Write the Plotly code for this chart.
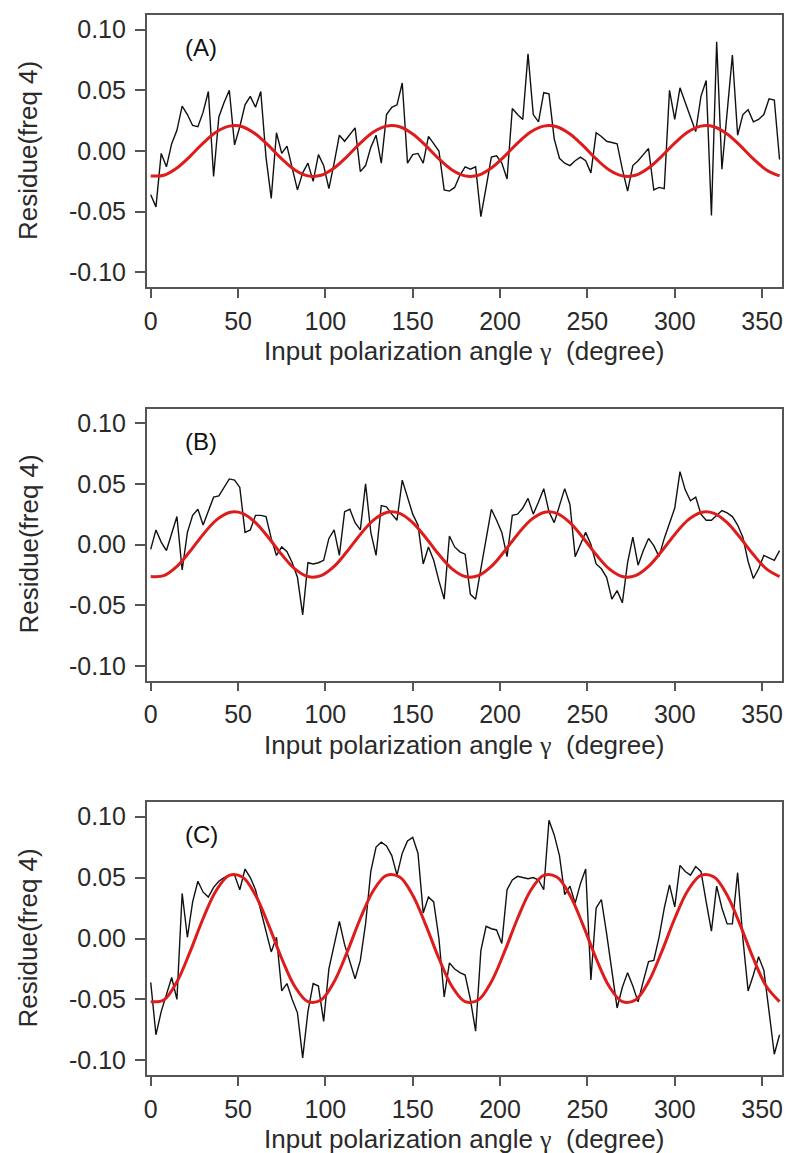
import plotly.graph_objects as go

# ---------------- data ----------------
gamma = list(range(0, 361, 3))  # input polarization angle (degree)

res_A = [-0.036, -0.046, -0.002, -0.013, 0.006, 0.017, 0.037, 0.030, 0.021, 0.020,
         0.032, 0.049, -0.021, 0.028, 0.040, 0.050, 0.005, 0.020, 0.038, 0.045,
         0.036, 0.049, -0.005, -0.039, 0.015, -0.002, 0.004, -0.015, -0.032, -0.018,
         -0.010, -0.025, -0.003, -0.012, -0.031, -0.010, 0.013, 0.008, 0.014, 0.019,
         -0.017, -0.012, 0.003, 0.013, -0.010, 0.030, 0.036, 0.038, 0.056, -0.010,
         -0.003, -0.002, -0.010, 0.012, 0.006, 0.000, -0.032, -0.033, -0.030, -0.020,
         -0.013, -0.015, -0.013, -0.054, -0.030, -0.005, -0.004, -0.010, -0.023, 0.035,
         0.030, 0.026, 0.080, 0.030, 0.024, 0.048, 0.047, 0.010, -0.006, -0.010,
         -0.012, -0.008, -0.005, -0.008, -0.018, 0.015, 0.012, 0.008, 0.007, 0.006,
         -0.015, -0.033, -0.012, -0.008, -0.003, 0.002, -0.032, -0.030, -0.031, 0.050,
         0.026, 0.052, 0.040, 0.028, 0.016, 0.045, 0.058, -0.053, 0.090, -0.015,
         0.030, 0.079, 0.013, 0.030, 0.034, 0.024, 0.026, 0.030, 0.043, 0.042,
         -0.007]

res_B = [-0.004, 0.012, 0.002, -0.005, 0.009, 0.023, -0.021, 0.010, 0.024, 0.029,
         0.016, 0.028, 0.039, 0.040, 0.047, 0.054, 0.053, 0.047, 0.010, 0.012,
         0.024, 0.024, 0.023, 0.005, -0.009, -0.002, -0.006, -0.015, -0.027, -0.058,
         -0.015, -0.016, -0.015, -0.013, 0.005, 0.012, -0.009, 0.027, 0.029, 0.018,
         0.012, 0.050, 0.010, -0.009, 0.032, 0.031, 0.025, 0.020, 0.053, 0.038,
         0.025, 0.016, -0.016, -0.002, -0.013, -0.030, -0.045, 0.007, -0.002, -0.006,
         -0.008, -0.041, -0.045, -0.020, 0.005, 0.029, 0.020, 0.010, -0.010, 0.024,
         0.025, 0.030, 0.038, 0.025, 0.035, 0.046, 0.027, 0.018, 0.032, 0.046,
         0.033, -0.010, 0.000, 0.010, 0.000, -0.016, -0.020, -0.027, -0.045, -0.038,
         -0.048, -0.015, 0.006, -0.017, -0.005, 0.005, -0.001, -0.010, 0.005, 0.018,
         0.030, 0.060, 0.045, 0.036, 0.039, 0.025, 0.020, 0.020, 0.024, 0.028,
         0.026, 0.023, 0.016, 0.006, -0.014, -0.028, -0.020, -0.009, -0.011, -0.013,
         -0.005]

res_C = [-0.036, -0.079, -0.060, -0.045, -0.032, -0.050, 0.037, 0.001, 0.030, 0.047,
         0.038, 0.034, 0.042, 0.047, 0.050, 0.052, 0.052, 0.040, 0.057, 0.050,
         0.040, 0.023, 0.005, -0.011, 0.001, -0.043, -0.037, -0.050, -0.061, -0.098,
         -0.060, -0.037, -0.039, -0.068, -0.025, -0.005, 0.014, -0.005, -0.020, -0.033,
         -0.018, 0.012, 0.055, 0.075, 0.079, 0.076, 0.068, 0.052, 0.070, 0.080,
         0.083, 0.070, 0.021, 0.034, 0.030, 0.000, -0.048, -0.020, -0.025, -0.028,
         -0.030, -0.050, -0.076, -0.010, 0.010, 0.008, 0.007, -0.004, 0.040, 0.048,
         0.051, 0.050, 0.049, 0.050, 0.048, 0.040, 0.097, 0.085, 0.068, 0.036,
         0.043, 0.029, 0.045, 0.057, -0.034, 0.025, 0.032, 0.004, -0.026, -0.057,
         -0.040, -0.028, -0.039, -0.052, -0.035, -0.019, -0.018, 0.001, 0.025, 0.044,
         0.026, 0.060, 0.055, 0.052, 0.059, 0.055, 0.030, 0.006, 0.043, 0.025,
         0.012, 0.012, 0.054, 0.000, -0.043, -0.030, -0.015, -0.026, -0.060, -0.095,
         -0.079]

# fitted freq-4 curves (red), read every 7.5 degrees
gamma_fit = [i * 7.5 for i in range(49)]

fit_A = [-0.0205, -0.0200, -0.0140, -0.0044, 0.0065, 0.0156, 0.0205, 0.0200, 0.0140, 0.0044, -0.0065, -0.0156,
         -0.0205, -0.0200, -0.0140, -0.0044, 0.0065, 0.0156, 0.0205, 0.0200, 0.0140, 0.0044, -0.0065, -0.0156,
         -0.0205, -0.0200, -0.0140, -0.0044, 0.0065, 0.0156, 0.0205, 0.0200, 0.0140, 0.0044, -0.0065, -0.0156,
         -0.0205, -0.0200, -0.0140, -0.0044, 0.0065, 0.0156, 0.0205, 0.0200, 0.0140, 0.0044, -0.0065, -0.0156,
         -0.0205]

fit_B = [-0.0264, -0.0257, -0.0181, -0.0056, 0.0083, 0.0201, 0.0264, 0.0257, 0.0181, 0.0056, -0.0083, -0.0201,
         -0.0264, -0.0257, -0.0181, -0.0056, 0.0083, 0.0201, 0.0264, 0.0257, 0.0181, 0.0056, -0.0083, -0.0201,
         -0.0264, -0.0257, -0.0181, -0.0056, 0.0083, 0.0201, 0.0264, 0.0257, 0.0181, 0.0056, -0.0083, -0.0201,
         -0.0264, -0.0257, -0.0181, -0.0056, 0.0083, 0.0201, 0.0264, 0.0257, 0.0181, 0.0056, -0.0083, -0.0201,
         -0.0264]

fit_C = [-0.0518, -0.0504, -0.0355, -0.0110, 0.0164, 0.0394, 0.0518, 0.0504, 0.0355, 0.0110, -0.0164, -0.0394,
         -0.0518, -0.0504, -0.0355, -0.0110, 0.0164, 0.0394, 0.0518, 0.0504, 0.0355, 0.0110, -0.0164, -0.0394,
         -0.0518, -0.0504, -0.0355, -0.0110, 0.0164, 0.0394, 0.0518, 0.0504, 0.0355, 0.0110, -0.0164, -0.0394,
         -0.0518, -0.0504, -0.0355, -0.0110, 0.0164, 0.0394, 0.0518, 0.0504, 0.0355, 0.0110, -0.0164, -0.0394,
         -0.0518]

panel_labels = ["(A)", "(B)", "(C)"]
x_tick_vals = [0, 50, 100, 150, 200, 250, 300, 350]
y_tick_vals = [-0.10, -0.05, 0.00, 0.05, 0.10]
y_tick_text = ["-0.10", "-0.05", "0.00", "0.05", "0.10"]
y_title = "Residue(freq 4)"
x_title = ("Input polarization angle "
           "<span style='font-family:Liberation Serif, DejaVu Serif, serif'>γ</span>"
           "\u00a0\u00a0(degree)")

# ---------------- layout geometry ----------------
W, H = 787, 1153
x_left, x_right = 146.7, 782.0
frames = [(15.0, 287.0), (408.5, 680.5), (802.0, 1075.0)]  # top, bottom in px

FONT = "Liberation Sans, Arial, Helvetica, sans-serif"
AXC = "#555555"
TXT = "#2a2a2a"

fig = go.Figure()
series = [res_A, res_B, res_C]
fits = [fit_A, fit_B, fit_C]

layout = dict(
    width=W, height=H,
    margin=dict(l=0, r=0, t=0, b=0),
    paper_bgcolor="white", plot_bgcolor="white",
    showlegend=False,
    font=dict(family=FONT, color=TXT),
)
annotations = []

for i in range(3):
    sfx = "" if i == 0 else str(i + 1)
    xa, ya = "x" + sfx, "y" + sfx
    fig.add_trace(go.Scatter(x=gamma, y=series[i], mode="lines",
                             line=dict(color="#111111", width=1.4),
                             xaxis=xa, yaxis=ya, hoverinfo="skip"))
    fig.add_trace(go.Scatter(x=gamma_fit, y=fits[i], mode="lines",
                             line=dict(color="rgb(222,28,28)", width=3, shape="spline", smoothing=1.0),
                             xaxis=xa, yaxis=ya, hoverinfo="skip"))
    top, bot = frames[i]
    layout["xaxis" + sfx] = dict(
        domain=[x_left / W, x_right / W], anchor=ya,
        range=[-2.3, 361.4], tickvals=x_tick_vals,
        ticks="outside", ticklen=9, tickwidth=1.5, tickcolor=AXC,
        showline=True, linecolor=AXC, linewidth=1.5, mirror=True,
        showgrid=False, zeroline=False, automargin=False,
        tickfont=dict(family=FONT, size=25, color=TXT),
        ticklabelstandoff=2,
    )
    layout["yaxis" + sfx] = dict(
        domain=[1 - bot / H, 1 - top / H], anchor=xa,
        range=[-0.112, 0.112], tickvals=y_tick_vals, ticktext=y_tick_text,
        ticks="outside", ticklen=10, tickwidth=1.5, tickcolor=AXC,
        showline=True, linecolor=AXC, linewidth=1.5, mirror=True,
        showgrid=False, zeroline=False, automargin=False,
        tickfont=dict(family=FONT, size=25, color=TXT),
        ticklabelstandoff=4,
    )
    # y title
    annotations.append(dict(text=y_title, x=28 / W, y=1 - (top + bot) / 2 / H,
                            xref="paper", yref="paper", showarrow=False, textangle=-90,
                            xanchor="center", yanchor="middle",
                            font=dict(family=FONT, size=26, color=TXT)))
    # x title
    annotations.append(dict(text=x_title, x=(x_left + x_right) / 2 / W, y=1 - (bot + 64) / H,
                            xref="paper", yref="paper", showarrow=False,
                            xanchor="center", yanchor="middle",
                            font=dict(family=FONT, size=26, color=TXT)))
    # panel label
    annotations.append(dict(text=panel_labels[i], x=183 / W, y=1 - (top + 33) / H,
                            xref="paper", yref="paper", showarrow=False,
                            xanchor="left", yanchor="middle",
                            font=dict(family=FONT, size=24, color="#111111")))

layout["annotations"] = annotations
fig.update_layout(**layout)
fig.write_html(
    "out.html",
    config={"displayModeBar": False, "responsive": False},
    post_script="document.body.style.margin='0';document.body.style.padding='0';"
                "document.body.style.overflow='hidden';",
)
